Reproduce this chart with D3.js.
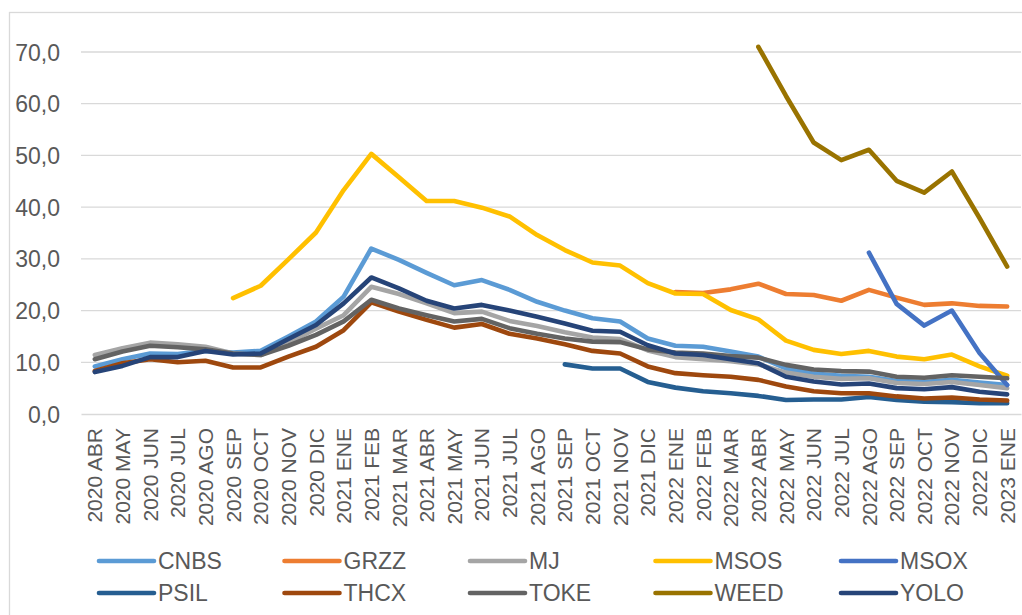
<!DOCTYPE html>
<html>
<head>
<meta charset="utf-8">
<script src="https://cdn.jsdelivr.net/npm/d3@7"></script>
<style>
  html, body { margin: 0; padding: 0; background: #fff; }
  svg { display: block; font-family: "Liberation Sans", Arial, sans-serif; }
</style>
</head>
<body>
<svg id="chart" width="1022" height="615"></svg>
<script>
const months = ["2020 ABR","2020 MAY","2020 JUN","2020 JUL","2020 AGO","2020 SEP","2020 OCT","2020 NOV","2020 DIC",
  "2021 ENE","2021 FEB","2021 MAR","2021 ABR","2021 MAY","2021 JUN","2021 JUL","2021 AGO","2021 SEP","2021 OCT","2021 NOV","2021 DIC",
  "2022 ENE","2022 FEB","2022 MAR","2022 ABR","2022 MAY","2022 JUN","2022 JUL","2022 AGO","2022 SEP","2022 OCT","2022 NOV","2022 DIC",
  "2023 ENE"];
const yTicks = [0, 10, 20, 30, 40, 50, 60, 70];
const N = null;

const CNBS = [9.2,10.6,11.7,11.6,12.2,11.9,12.2,15.0,17.9,22.7,32.0,29.8,27.3,24.9,25.9,24.0,21.7,20.0,18.5,17.9,14.6,13.2,13.0,12.1,11.1,8.8,7.8,7.4,7.2,6.4,6.2,6.6,6.1,5.6];
const GRZZ = [N,N,N,N,N,N,N,N,N,N,N,N,N,N,N,N,N,N,N,N,N,23.6,23.4,24.1,25.2,23.2,23.0,21.9,24.0,22.5,21.1,21.4,20.9,20.8];
const MJ   = [11.4,12.7,13.8,13.5,13.0,11.7,11.4,13.8,16.5,19.1,24.6,23.2,21.4,19.5,19.8,18.0,17.0,15.8,14.8,14.5,12.3,11.0,10.6,10.2,9.6,8.0,7.2,6.8,6.9,6.0,5.8,6.2,5.6,5.0];
const MSOS = [N,N,N,N,N,22.4,24.8,29.9,35.1,43.3,50.3,45.8,41.2,41.2,39.9,38.2,34.6,31.7,29.3,28.7,25.3,23.3,23.2,20.1,18.3,14.2,12.4,11.6,12.2,11.1,10.6,11.5,9.2,7.4];
const MSOX = [N,N,N,N,N,N,N,N,N,N,N,N,N,N,N,N,N,N,N,N,N,N,N,N,N,N,N,N,31.2,21.3,17.1,20.0,11.8,5.6];
const PSIL = [N,N,N,N,N,N,N,N,N,N,N,N,N,N,N,N,N,9.6,8.8,8.8,6.2,5.1,4.4,4.0,3.5,2.7,2.8,2.8,3.3,2.7,2.4,2.3,2.1,2.1];
const THCX = [8.3,9.8,10.6,10.0,10.3,9.0,9.0,11.1,13.0,16.2,21.6,19.8,18.2,16.7,17.4,15.5,14.6,13.5,12.2,11.7,9.2,7.9,7.5,7.2,6.6,5.3,4.4,4.0,4.0,3.4,3.0,3.2,2.8,2.6];
const TOKE = [10.6,12.1,13.2,12.9,12.5,11.7,11.4,13.2,15.3,17.9,22.1,20.4,19.1,17.9,18.4,16.6,15.5,14.6,14.0,13.9,12.5,11.9,11.7,11.2,10.9,9.5,8.6,8.3,8.2,7.2,7.0,7.5,7.2,6.9];
const WEED = [N,N,N,N,N,N,N,N,N,N,N,N,N,N,N,N,N,N,N,N,N,N,N,N,71.0,61.5,52.5,49.1,51.1,45.1,42.8,46.9,37.9,28.5];
const YOLO = [8.1,9.3,11.0,11.0,12.2,11.5,11.7,14.5,17.2,21.4,26.4,24.3,21.9,20.4,21.1,20.0,18.8,17.5,16.1,15.9,13.3,11.7,11.4,10.6,9.8,7.2,6.3,5.7,5.9,5.0,4.8,5.2,4.3,3.8];

const seriesNames = ["CNBS","GRZZ","MJ","MSOS","MSOX","PSIL","THCX","TOKE","WEED","YOLO"];
const seriesValues = [CNBS, GRZZ, MJ, MSOS, MSOX, PSIL, THCX, TOKE, WEED, YOLO];
const seriesColors = ["#5B9BD5","#ED7D31","#A5A5A5","#FFC000","#4472C4","#255E91","#9E480E","#636363","#997300","#264478"];

const svg = d3.select("#chart");
const textColor = "#595959";
const gridColor = "#D9D9D9";

// outer chart border
svg.append("rect").attr("x", 9.5).attr("y", 12.5).attr("width", 1040).attr("height", 640)
  .attr("fill", "none").attr("stroke", gridColor).attr("stroke-width", 1.3);

const plotLeft = 81, plotRight = 1021, yTop = 52, yBottom = 414;

const x = d3.scaleBand().domain(months).range([plotLeft, plotRight]);
const y = d3.scaleLinear().domain([0, 70]).range([yBottom, yTop]);

// gridlines
svg.append("g").selectAll("line").data(yTicks.filter(d => d > 0)).join("line")
  .attr("x1", plotLeft).attr("x2", plotRight)
  .attr("y1", d => y(d)).attr("y2", d => y(d))
  .attr("stroke", gridColor).attr("stroke-width", 1.3);

// y axis labels
const yAxis = d3.axisLeft(y).tickValues(yTicks).tickSize(0).tickPadding(0)
  .tickFormat(d => d3.format(".1f")(d).replace(".", ","));
const gy = svg.append("g").attr("transform", `translate(60,0)`).call(yAxis);
gy.select(".domain").remove();
gy.selectAll("text").attr("fill", textColor).style("font-size", "23px")
  .attr("dy", "0.35em");

// x axis
const xAxis = d3.axisBottom(x).tickSize(0).tickPadding(0);
const gx = svg.append("g").attr("transform", `translate(0,${yBottom})`).call(xAxis);
gx.select(".domain").attr("stroke", gridColor).attr("stroke-width", 1.6);
gx.selectAll("text")
  .attr("fill", textColor).style("font-size", "21px")
  .attr("text-anchor", "end")
  .attr("transform", "rotate(-90)")
  .attr("x", -14).attr("y", 0).attr("dy", "0.36em");

// lines
const line = d3.line()
  .defined(d => d != null)
  .x((d, i) => x(months[i]) + x.bandwidth() / 2)
  .y(d => y(d));

svg.append("g").selectAll("path").data(seriesValues).join("path")
  .attr("d", d => line(d))
  .attr("fill", "none")
  .attr("stroke", (d, i) => seriesColors[i])
  .attr("stroke-width", 4.6)
  .attr("stroke-linejoin", "round")
  .attr("stroke-linecap", "round");

// legend
const legendCols = 5, colW = 185.5, legX0 = 99, rowY = [561, 593];
const leg = svg.append("g").selectAll("g").data(seriesNames).join("g")
  .attr("transform", (d, i) => `translate(${legX0 + (i % legendCols) * colW},${rowY[Math.floor(i / legendCols)]})`);
leg.append("line").attr("x1", 0).attr("x2", 55).attr("y1", 0).attr("y2", 0)
  .attr("stroke", (d, i) => seriesColors[i]).attr("stroke-width", 4.6).attr("stroke-linecap", "round");
leg.append("text").attr("x", 59).attr("y", 0).attr("dy", "0.35em")
  .attr("fill", textColor).style("font-size", "23px").text(d => d);
</script>
</body>
</html>
